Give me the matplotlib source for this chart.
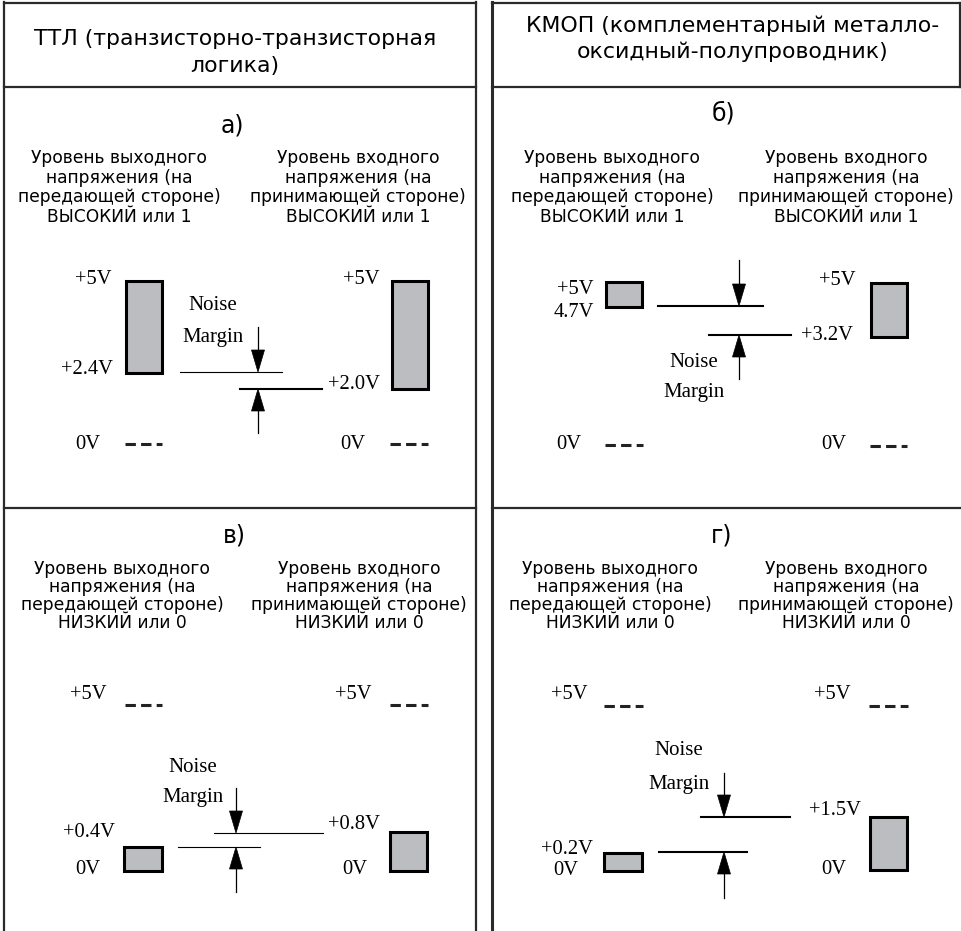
import matplotlib
matplotlib.use('Agg')
import matplotlib.pyplot as plt
from matplotlib.patches import Rectangle, Polygon

SANS = 'DejaVu Sans'
SERIF = 'Liberation Serif'
GREY = '#bcbdc0'

# ---- texts ----
headers = [['ТТЛ (транзисторно-транзисторная', 'логика)'],
           ['КМОП (комплементарный металло-', 'оксидный-полупроводник)']]
tags = ['а)', 'б)', 'в)', 'г)']
out_head = ['Уровень выходного', 'напряжения (на', 'передающей стороне)']
in_head = ['Уровень входного', 'напряжения (на', 'принимающей стороне)']
state = ['ВЫСОКИЙ или 1', 'ВЫСОКИЙ или 1', 'НИЗКИЙ или 0', 'НИЗКИЙ или 0']

# ---- voltage levels (transmitter / receiver threshold) ----
out_thr = ['+2.4V', '4.7V', '+0.4V', '+0.2V']
in_thr = ['+2.0V', '+3.2V', '+0.8V', '+1.5V']

# ---- schematic layout per panel (pixels) ----
# bar: x0, x1, ytop, ybot ; lbl: text right edge + centre y
out_bar = [(126, 162, 281, 373), (606, 642, 282, 307), (124, 162, 847, 871), (604, 642, 853, 871)]
in_bar = [(392, 428, 281, 389), (871, 907, 283, 337), (390, 427, 832, 871), (870, 907, 817, 870)]
out_5v = [(112, 277), (594, 287), (107, 692), (588, 692)]
in_5v = [(380, 277), (856, 278), (372, 692), (851, 692)]
out_thr_pos = [(113, 367), (594, 310), (115, 830), (593, 847)]
in_thr_pos = [(380, 382), (853, 333), (380, 822), (861, 808)]
out_0v = [(100, 442), (581, 442), (100, 867), (578, 868)]
in_0v = [(365, 442), (846, 442), (367, 867), (846, 867)]
out_dash = [(125, 162, 444), (605, 643, 445), (125, 162, 705), (604, 643, 706)]
in_dash = [(390, 428, 444), (870, 907, 446), (390, 428, 705), (869, 908, 706)]
# noise margin: line1 (x0,x1,y), line2 (x0,x1,y), arrow x, stem top, stem bottom
nm_l1 = [(180, 282, 372), (658, 763, 306), (214, 323, 833), (701, 790, 817)]
nm_l2 = [(240, 322, 389), (709, 791, 335), (178, 260, 847), (659, 747, 852)]
nm_lw = [(0.8, 1.5), (1.5, 1.5), (0.8, 0.8), (1.5, 1.5)]
nm_arrow = [(258, 327, 433), (739, 260, 379), (236, 788, 892), (724, 773, 898)]
nm_text = [(213, 303, 335), (694, 360, 390), (193, 765, 795), (679, 748, 782)]

tag_pos = [(232, 132), (723, 120), (234, 542), (722, 542)]
head_cx = [(119, 358), (612, 846), (122, 359), (610, 846)]
head_y0 = [163, 163, 574, 574]
head_dy = [19.6, 19.6, 18.0, 18.0]

fig = plt.figure(figsize=(9.62, 9.31), dpi=100)
ax = fig.add_axes([0, 0, 1, 1])
ax.set_xlim(0, 962)
ax.set_ylim(931, 0)
ax.axis('off')

# frames
fc = '#2a2a2a'
ax.plot([4, 4], [2, 931], color=fc, lw=1.6)
ax.plot([476, 476], [2, 931], color=fc, lw=1.6)
ax.plot([4, 476], [3, 3], color=fc, lw=1.6)
ax.plot([4, 476], [87, 87], color=fc, lw=1.6)
ax.plot([4, 476], [508, 508], color=fc, lw=1.6)
ax.plot([492, 492], [2, 931], color=fc, lw=2.2)
ax.plot([492, 961], [3, 3], color=fc, lw=1.6)
ax.plot([960, 960], [3, 87], color=fc, lw=1.6)
ax.plot([492, 962], [87, 87], color=fc, lw=1.6)
ax.plot([492, 962], [508, 508], color=fc, lw=1.6)

# headers
ax.text(235, 45, headers[0][0], family=SANS, fontsize=15.8, ha='center', va='baseline')
ax.text(235, 72, headers[0][1], family=SANS, fontsize=15.8, ha='center', va='baseline')
ax.text(733, 32, headers[1][0], family=SANS, fontsize=15.8, ha='center', va='baseline')
ax.text(733, 58, headers[1][1], family=SANS, fontsize=15.8, ha='center', va='baseline')


def vlabel(x, y, s):
    ax.text(x, y + 6.8, s, family=SERIF, fontsize=14.8, ha='right', va='baseline')


def bar(b):
    ax.add_patch(Rectangle((b[0], b[2]), b[1] - b[0], b[3] - b[2],
                           facecolor=GREY, edgecolor='black', lw=2.2))


def dashes(d):
    ax.plot([d[0], d[1]], [d[2], d[2]], color='#222222', lw=2.2,
            linestyle=(0, (3.4, 1.7)), solid_capstyle='butt', dash_capstyle='butt')


def arrow(x, tip, tail):
    hl, hw = 22, 6.5
    sgn = 1 if tail > tip else -1
    ax.plot([x, x], [tail, tip + sgn * hl], color='black', lw=0.9)
    ax.add_patch(Polygon([(x, tip), (x - hw, tip + sgn * hl), (x + hw, tip + sgn * hl)],
                         closed=True, facecolor='black', edgecolor='black', lw=0.5))


for i in range(4):
    tx, ty = tag_pos[i]
    ax.text(tx, ty, tags[i], family=SANS, fontsize=17, ha='center', va='baseline')
    lines_out = out_head + [state[i]]
    lines_in = in_head + [state[i]]
    for k in range(4):
        y = head_y0[i] + k * head_dy[i]
        ax.text(head_cx[i][0], y, lines_out[k], family=SANS, fontsize=12.3, ha='center', va='baseline')
        ax.text(head_cx[i][1], y, lines_in[k], family=SANS, fontsize=12.3, ha='center', va='baseline')

    bar(out_bar[i])
    bar(in_bar[i])
    vlabel(*out_5v[i], '+5V')
    vlabel(*in_5v[i], '+5V')
    vlabel(*out_thr_pos[i], out_thr[i])
    vlabel(*in_thr_pos[i], in_thr[i])
    vlabel(*out_0v[i], '0V')
    vlabel(*in_0v[i], '0V')
    dashes(out_dash[i])
    dashes(in_dash[i])

    l1, l2 = nm_l1[i], nm_l2[i]
    ax.plot([l1[0], l1[1]], [l1[2], l1[2]], color='black', lw=nm_lw[i][0])
    ax.plot([l2[0], l2[1]], [l2[2], l2[2]], color='black', lw=nm_lw[i][1])
    ax_x, top, bot = nm_arrow[i]
    upper = min(l1[2], l2[2])
    lower = max(l1[2], l2[2])
    arrow(ax_x, upper, top)
    arrow(ax_x, lower, bot)
    nx, ny1, ny2 = nm_text[i]
    ax.text(nx, ny1 + 6.8, 'Noise', family=SERIF, fontsize=15, ha='center', va='baseline')
    ax.text(nx, ny2 + 6.8, 'Margin', family=SERIF, fontsize=15, ha='center', va='baseline')

fig.savefig('out.png', dpi=100)
